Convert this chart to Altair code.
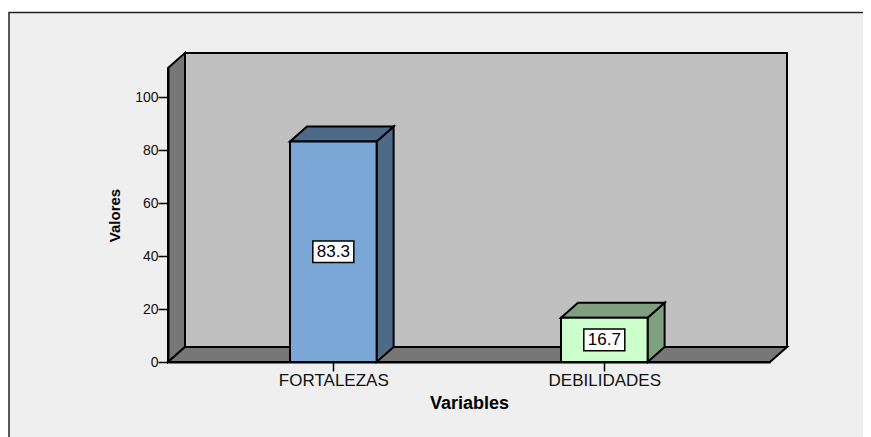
import altair as alt
import pandas as pd

categories = ["FORTALEZAS", "DEBILIDADES"]
values = [83.3, 16.7]
y_ticks = [0, 20, 40, 60, 80, 100]
x_title = "Variables"
y_title = "Valores"
front_colors = ["#7ba7d6", "#ccffcc"]
side_colors = ["#4d6a88", "#7f9f7f"]

PW, PH = 602, 294
PX_PER_UNIT_X = 271.0
XMIN, XMAX = -0.61, -0.61 + PW / PX_PER_UNIT_X
YMAX = 111.07
PX_PER_UNIT_Y = PH / YMAX
DX = 17 / PX_PER_UNIT_X
DY = 15 / PX_PER_UNIT_Y
HALF_BAR = 43.3 / PX_PER_UNIT_X
LBL_HW = 20.5 / PX_PER_UNIT_X
LBL_HH = 10.8 / PX_PER_UNIT_Y

xs = alt.Scale(domain=[XMIN, XMAX], nice=False, zero=False)
ys = alt.Scale(domain=[0, YMAX], nice=False, zero=False)

label_expr = f"datum.value == 0 ? '{categories[0]}' : '{categories[1]}'"
x_axis = alt.Axis(
    values=[0, 1], labelExpr=label_expr, grid=False, zindex=1,
    domainColor="black", domainWidth=2, tickColor="black", tickWidth=1.5, tickSize=9,
    labelFont="Liberation Sans", labelFontSize=17, labelColor="#111111", labelPadding=1,
    titleFont="Liberation Sans", titleFontSize=18, titleFontWeight="bold", titleColor="black",
    titlePadding=6, labelOverlap=False, labelFlush=False,
)
y_axis = alt.Axis(
    values=y_ticks, grid=False, zindex=1,
    domainColor="black", domainWidth=2, tickColor="black", tickWidth=1.5, tickSize=10,
    labelFont="Liberation Sans", labelFontSize=14, labelColor="#111111", labelPadding=0,
    titleFont="Liberation Sans", titleFontSize=15, titleFontWeight="bold", titleColor="black",
    titlePadding=12, labelOverlap=False,
)
AX = alt.X("x:Q", scale=xs, title=x_title, axis=x_axis)
AY = alt.Y("y:Q", scale=ys, title=y_title, axis=y_axis, stack=None)


def area(rows, fill, sw=2):
    df = pd.DataFrame(rows, columns=["x", "y", "y2"])
    return alt.Chart(df).mark_area(
        fill=fill, stroke="black", strokeWidth=sw, orient="vertical", opacity=1
    ).encode(x=AX, y=AY, y2="y2:Q")


def rect(x0, x1, y0, y1, fill, sw=2, stroke="black"):
    df = pd.DataFrame([dict(x=x0, x2=x1, y=y0, y2=y1)])
    return alt.Chart(df).mark_rect(fill=fill, stroke=stroke, strokeWidth=sw, opacity=1).encode(
        x=AX, x2="x2:Q", y=AY, y2="y2:Q"
    )


layers = []

# page-coloured frame, running off the right and bottom of the canvas
fx0 = XMIN - 159 / PX_PER_UNIT_X
fx1 = XMAX + 120 / PX_PER_UNIT_X
fy0 = -90 / PX_PER_UNIT_Y
fy1 = YMAX + 55.5 / PX_PER_UNIT_Y
layers.append(rect(fx0, fx1, fy0, fy1, "#efefef", sw=1.5, stroke="#222222"))

# back wall, left wall, floor
layers.append(rect(XMIN + DX, XMAX + DX, DY, YMAX + DY, "#c0c0c0"))
layers.append(area([(XMIN, 0, YMAX), (XMIN + DX, DY, YMAX + DY)], "#777777"))
layers.append(area([
    (XMIN, 0, 0),
    (XMIN + DX, 0, DY),
    (XMAX, 0, DY),
    (XMAX + DX, DY, DY),
], "#777777"))

# bars
for i, v in enumerate(values):
    x0, x1 = i - HALF_BAR, i + HALF_BAR
    layers.append(area([(x1, 0, v), (x1 + DX, DY, v + DY)], side_colors[i]))
    layers.append(area([
        (x0, v, v),
        (x0 + DX, v, v + DY),
        (x1, v, v + DY),
        (x1 + DX, v + DY, v + DY),
    ], side_colors[i]))
    layers.append(rect(x0, x1, 0, v, front_colors[i]))
    mid = v / 2
    layers.append(rect(i - LBL_HW, i + LBL_HW, mid - LBL_HH, mid + LBL_HH, "white", sw=1.5))
    layers.append(
        alt.Chart(pd.DataFrame([dict(x=i, y=mid, t=f"{v:.1f}")])).mark_text(
            font="Liberation Sans", fontSize=17, color="black", align="center", baseline="middle"
        ).encode(x=AX, y=AY, text="t:N")
    )

chart = alt.layer(*layers).properties(
    width=PW,
    height=PH,
    background="white",
    padding={"left": 160, "top": 60, "right": 93, "bottom": 75},
    autosize=alt.AutoSizeParams(type="none"),
).configure_view(stroke=None)

chart.save("out.html", embed_options={"renderer": "svg", "actions": False})
